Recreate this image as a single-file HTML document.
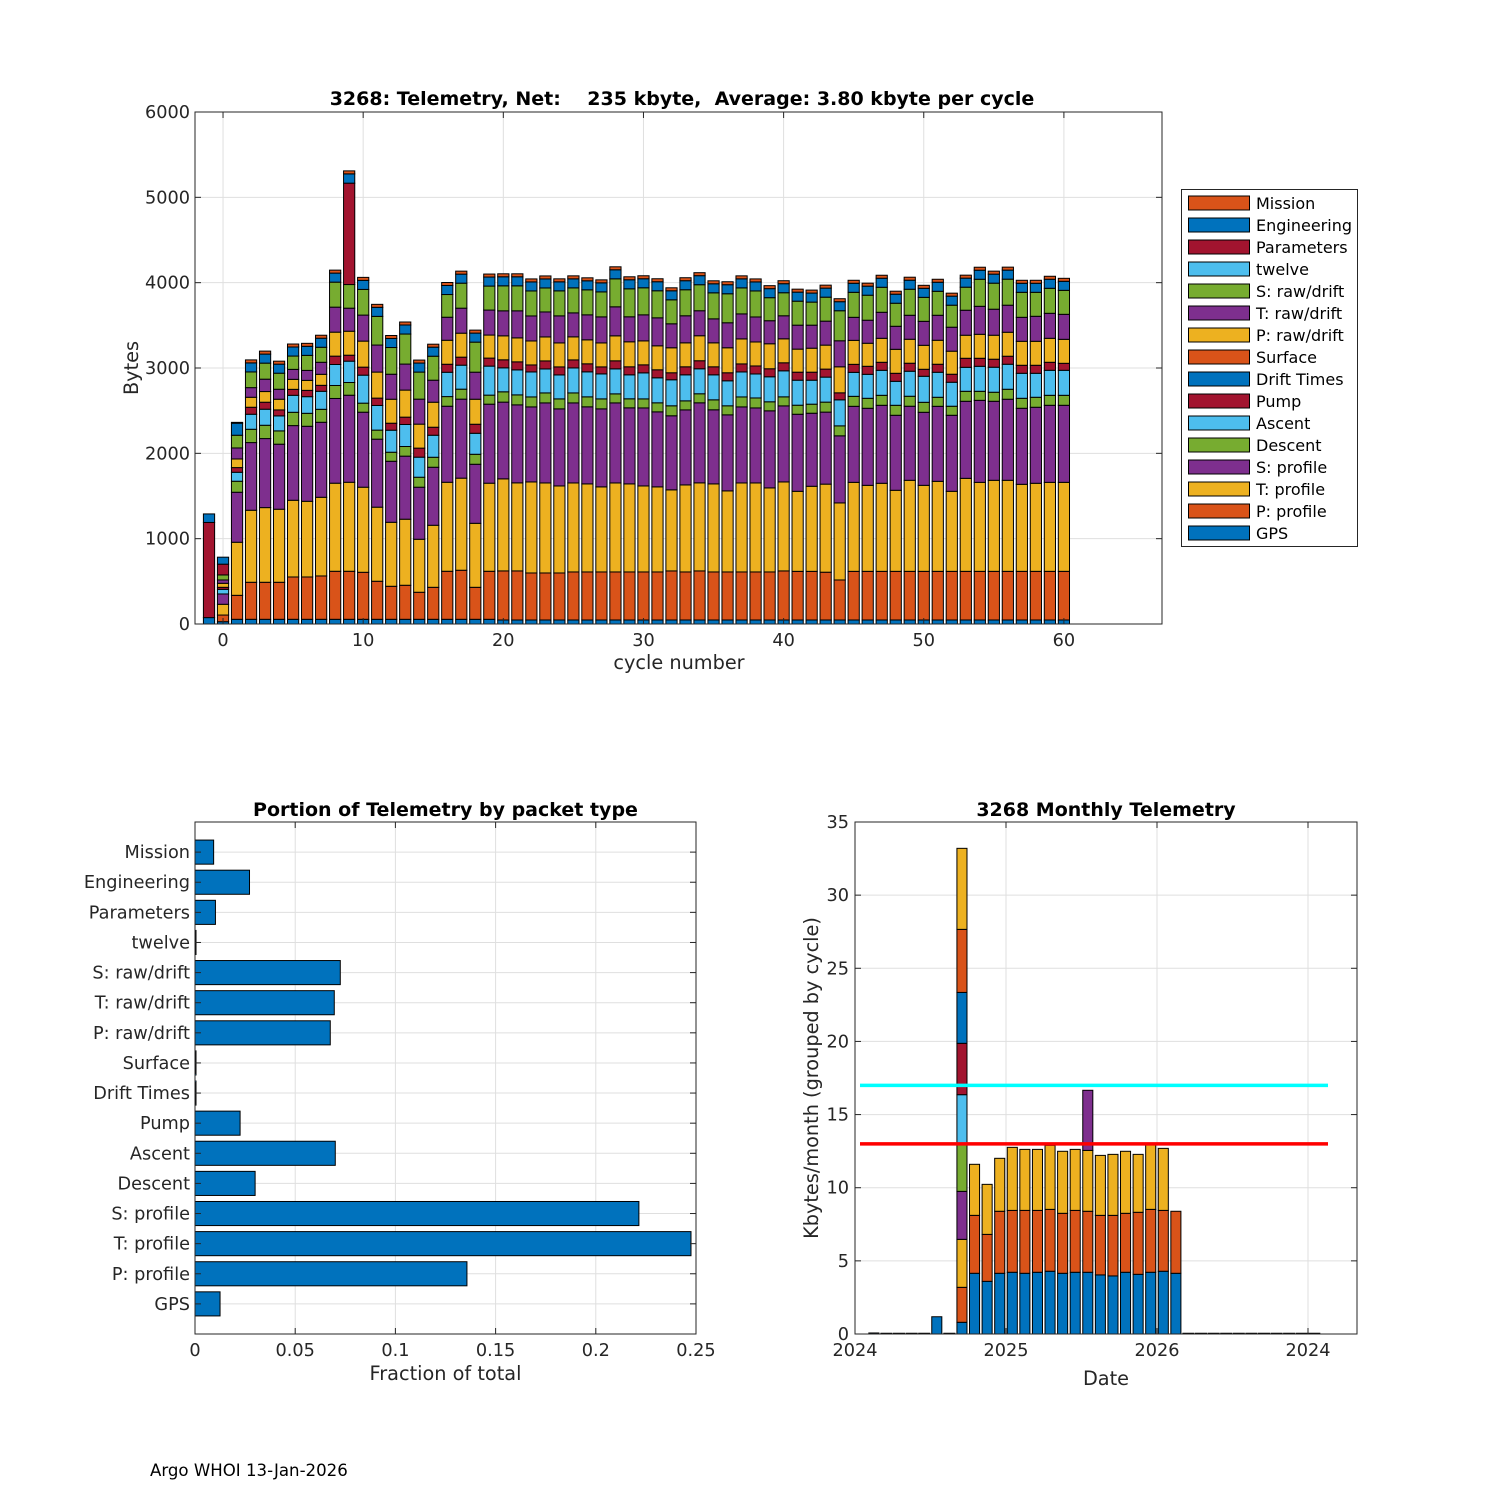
<!DOCTYPE html>
<html><head><meta charset="utf-8">
<style>
html,body{margin:0;padding:0;background:#fff;}
svg{display:block;font-family:"DejaVu Sans","Liberation Sans",sans-serif;}
.pre{white-space:pre;}
</style></head>
<body>
<svg id="fig" width="1500" height="1500" viewBox="0 0 1500 1500" xmlns="http://www.w3.org/2000/svg">
<rect x="0" y="0" width="1500" height="1500" fill="#fff"/>
<g id="top"></g><g id="bl"></g><g id="br"></g>
<text x="150" y="1476" font-size="16.6" fill="#000">Argo WHOI 13-Jan-2026</text>
</svg>
<script>
// ===== Top chart data (cycle -1 .. 60) =====
const cycles = [];
for (let c = -1; c <= 60; c++) cycles.push(c);
const seriesNames = ["GPS","P: profile","T: profile","S: profile","Descent","Ascent","Pump","Drift Times","Surface","P: raw/drift","T: raw/drift","S: raw/drift","twelve","Parameters","Engineering","Mission"];
const gpsVals = [75,27,55,55,55,55,55,55,55,55,55,55,55,55,55,55,55,55,55,55,55,47,47,47,47,47,47,47,47,47,47,47,47,47,47,47,47,47,47,47,47,47,47,47,47,47,47,47,47,47,47,47,47,47,47,47,47,47,47,47,47,47];
const pProfVals = [0,78,281,434,434,434,496,496,508,563,563,551,446,387,399,317,375,563,575,375,563,575,575,551,551,551,563,563,563,563,563,563,563,575,563,575,563,563,563,563,563,575,570,570,560,469,570,570,570,570,570,570,570,570,570,570,570,570,570,570,570,570];
const tProfVals = [0,126,622,844,875,856,899,887,922,1032,1043,997,868,750,774,621,727,1043,1079,750,1032,1079,1032,1067,1055,1020,1043,1032,997,1043,1032,1008,997,950,1020,1032,1032,950,1043,1043,985,1043,938,997,1032,903,1043,1008,1032,950,1067,1008,1055,938,1090,1043,1067,1067,1020,1032,1043,1043];
const sProfVals = [0,121,586,793,809,762,875,879,879,993,1020,879,797,715,739,610,680,891,926,692,926,899,914,879,938,903,938,903,914,938,891,914,879,868,879,938,868,891,891,879,903,891,903,856,844,786,891,903,914,879,868,856,879,891,903,961,926,950,891,891,903,903];
const descentVals = [0,0,129,156,156,156,156,152,152,152,149,106,106,106,113,117,117,113,117,117,106,121,117,117,117,117,117,117,117,106,106,106,106,117,106,106,117,106,117,117,106,106,106,106,117,117,117,117,117,117,117,117,106,106,117,106,106,117,117,117,117,117];
const ascentVals = [0,54,105,176,188,176,199,195,211,246,250,328,289,258,258,235,258,285,281,246,340,281,293,293,281,281,293,293,293,293,281,305,293,305,305,293,293,293,293,281,293,305,293,281,293,305,281,281,293,281,293,305,293,281,281,293,293,293,293,281,293,293];
const pumpVals = [0,24,55,82,82,70,70,74,70,98,70,94,86,82,86,106,94,94,94,106,94,94,94,82,94,94,94,94,82,94,94,94,94,82,94,94,94,94,94,94,94,94,94,94,94,82,94,94,94,94,94,82,94,94,106,94,94,94,94,94,94,82];
const driftVals = new Array(62).fill(0);
const surfaceVals = new Array(62).fill(0);
const pRawVals = [0,47,101,117,125,125,117,117,129,281,281,305,305,281,317,281,293,281,281,293,270,281,281,281,281,281,270,281,281,293,293,281,281,293,281,293,281,293,293,281,293,281,270,281,281,305,281,270,281,281,281,281,281,270,270,281,281,281,281,281,281,281];
const tRawVals = [0,39,129,113,145,117,117,117,141,293,270,305,317,293,305,293,258,270,293,317,293,293,317,293,293,317,281,293,305,340,293,305,328,281,317,293,281,293,293,293,270,270,281,270,281,305,270,270,305,270,281,281,293,281,293,328,305,317,281,293,293,293];
const sRawVals = [0,59,149,184,188,188,156,176,176,293,277,301,336,313,352,317,281,266,293,352,281,293,293,293,281,293,293,293,293,328,328,317,317,281,305,305,305,340,305,305,270,270,281,270,281,352,293,293,293,270,305,281,281,258,270,317,305,305,293,281,293,281];
const twelveVals = new Array(62).fill(0);
const paramVals = [1115,126,0,0,0,0,0,0,0,0,1188,0,0,0,0,0,0,0,0,0,0,0,0,0,0,0,0,0,0,0,0,0,0,0,0,0,0,0,0,0,0,0,0,0,0,0,0,0,0,0,0,0,0,0,0,0,0,0,0,0,0,0];
const engVals = [100,82,141,106,106,106,106,106,106,106,109,106,106,106,106,106,106,106,106,106,106,106,106,106,106,106,106,106,106,106,106,106,106,106,106,106,106,106,106,106,106,106,106,106,106,106,106,106,106,106,106,106,106,106,106,106,106,106,106,106,106,106];
const missionVals = [0,0,10,35,35,35,35,35,35,35,35,35,35,35,35,35,35,35,35,35,35,35,35,35,35,35,35,35,35,35,35,35,35,35,35,35,35,35,35,35,35,35,35,35,35,35,35,35,35,35,35,35,35,35,35,35,35,35,35,35,35,35];
const xTicksTop = [0,10,20,30,40,50,60];
const yTicksTop = [0,1000,2000,3000,4000,5000,6000];

// ===== Bottom-left data =====
const packetTypes = ["GPS","P: profile","T: profile","S: profile","Descent","Ascent","Pump","Drift Times","Surface","P: raw/drift","T: raw/drift","S: raw/drift","twelve","Parameters","Engineering","Mission"];
const fractions = [0.0125,0.1357,0.2475,0.2215,0.030,0.0700,0.0225,0.0005,0.0005,0.0675,0.0695,0.0725,0.0005,0.0102,0.0272,0.0093];
const xTicksBL = [0,0.05,0.1,0.15,0.2,0.25];
const xTickLabelsBL = ["0","0.05","0.1","0.15","0.2","0.25"];

// ===== Bottom-right data (months since Jan 2024) =====
const monthIdx = [1,2,3,4,5,6,7,8,9,10,11,12,13,14,15,16,17,18,19,20,21,22,23,24,25,26,27,28,29,30,31,32,33,34,35,36];
const monthSegs = [[0.07],[0],[0],[0],[0],[1.18],[0],
 [0.80,2.39,3.28,3.28,3.25,3.36,3.51,3.48,4.31,5.54],
 [4.15,3.96,3.49],[3.60,3.21,3.42],[4.15,4.24,3.62],[4.22,4.23,4.31],[4.15,4.30,4.17],[4.22,4.23,4.17],
 [4.29,4.23,4.38],[4.15,4.10,4.24],[4.22,4.23,4.17],[4.22,4.17,4.16,4.11],[4.04,4.07,4.10],[3.97,4.14,4.17],
 [4.22,4.03,4.24],[4.08,4.24,3.96],[4.22,4.30,4.43],[4.29,4.16,4.24],[4.15,4.24],
 [0],[0],[0],[0],[0],[0],[0],[0],[0],[0],[0]];
const yTicksBR = [0,5,10,15,20,25,30,35];
const xTicksBR = [0,12,24,36];
const xTickLabelsBR = ["2024","2025","2026","2024"];
const refLineCyan = 17;
const refLineRed = 13;

const COLORS = ["#0072BD","#D95319","#EDB120","#7E2F8E","#77AC30","#4DBEEE","#A2142F"];
const seriesColors = ["#0072BD","#D95319","#EDB120","#7E2F8E","#77AC30","#4DBEEE","#A2142F","#0072BD","#D95319","#EDB120","#7E2F8E","#77AC30","#4DBEEE","#A2142F","#0072BD","#D95319"];
const NS = "http://www.w3.org/2000/svg";
function mk(parent, tag, attrs, text) {
  const e = document.createElementNS(NS, tag);
  for (const k in attrs) e.setAttribute(k, attrs[k]);
  if (text !== undefined) e.textContent = text;
  parent.appendChild(e);
  return e;
}
const AX = "#262626", GRID = "#dfdfdf";
const TFS = 17.7, TITLEFS = 19, LABFS = 19.3;

// ================= TOP CHART =================
(function(){
  const g = document.getElementById('top');
  const L=195,R=1162,T=112,B=624, xmin=-2,xmax=67, ymax=6000;
  const xs = c => L + (c - xmin) * (R - L) / (xmax - xmin);
  const ys = v => B - v * (B - T) / ymax;
  const bg = mk(g,'rect',{x:L,y:T,width:R-L,height:B-T,fill:'#fff'});
  
  
  xTicksTop.forEach(t=>{ const l=mk(g,'line',{x1:xs(t),x2:xs(t),y1:T,y2:B,stroke:GRID,'stroke-width':1});
      });
  yTicksTop.forEach(t=>{ const l=mk(g,'line',{x1:L,x2:R,y1:ys(t),y2:ys(t),stroke:GRID,'stroke-width':1});
      });
  const all = [gpsVals,pProfVals,tProfVals,sProfVals,descentVals,ascentVals,pumpVals,driftVals,surfaceVals,pRawVals,tRawVals,sRawVals,twelveVals,paramVals,engVals,missionVals];
  const bw = 0.8 * (R - L) / (xmax - xmin);
  cycles.forEach((c,i)=>{
    let cum = 0;
    all.forEach((s,k)=>{
      const v = s[i]; if (!v) return;
      const r = mk(g,'rect',{x:xs(c)-bw/2,y:ys(cum+v),width:bw,height:ys(cum)-ys(cum+v),fill:seriesColors[k],stroke:'#000','stroke-width':1});
      
      
      cum += v;
    });
  });
  const bx = mk(g,'rect',{x:L,y:T,width:R-L,height:B-T,fill:'none',stroke:AX,'stroke-width':1});
   
  xTicksTop.forEach(t=>{
    mk(g,'line',{x1:xs(t),x2:xs(t),y1:B,y2:B-6,stroke:AX});
    mk(g,'line',{x1:xs(t),x2:xs(t),y1:T,y2:T+6,stroke:AX});
    const tx = mk(g,'text',{x:xs(t),y:B+22,'font-size':TFS,'text-anchor':'middle',fill:AX},String(t));
     
  });
  yTicksTop.forEach(t=>{
    mk(g,'line',{x1:L,x2:L+6,y1:ys(t),y2:ys(t),stroke:AX});
    mk(g,'line',{x1:R,x2:R-6,y1:ys(t),y2:ys(t),stroke:AX});
    const tx = mk(g,'text',{x:L-5,y:ys(t)+6,'font-size':TFS,'text-anchor':'end',fill:AX},String(t));
     
  });
  const ti = mk(g,'text',{x:682,y:105,'font-size':TITLEFS,'font-weight':'bold','text-anchor':'middle',fill:'#000','class':'pre'},'3268: Telemetry, Net:    235 kbyte,  Average: 3.80 kbyte per cycle');
   
  const xl = mk(g,'text',{x:679,y:669,'font-size':LABFS,'text-anchor':'middle',fill:AX},'cycle number');
   
  const yl = mk(g,'text',{x:0,y:0,'font-size':LABFS,'text-anchor':'middle',fill:AX,transform:'translate(138,368) rotate(-90)'},'Bytes');
   
  // legend
  const lg = mk(g,'g',{});
   
  mk(lg,'rect',{x:1181.5,y:189.5,width:176,height:357,fill:'#fff',stroke:AX,'stroke-width':1});
  for (let k = 15; k >= 0; k--) {
    const row = 15 - k, y = 203 + row * 22;
    const e = mk(lg,'g',{});
    
    
    mk(e,'rect',{x:1188.5,y:y-7,width:61,height:14,fill:seriesColors[k],stroke:'#000','stroke-width':1});
    mk(e,'text',{x:1256,y:y+6,'font-size':16,fill:'#000'},seriesNames[k]);
  }
})();

// ================= BOTTOM-LEFT =================
(function(){
  const g = document.getElementById('bl');
  const L=195,R=696,T=822,B=1334, xmax=0.25, ymax=17;
  const xs = v => L + v * (R - L) / xmax;
  const ys = i => B - i * (B - T) / ymax;
  xTicksBL.forEach(t=>{ const l=mk(g,'line',{x1:xs(t),x2:xs(t),y1:T,y2:B,stroke:GRID});
      });
  packetTypes.forEach((p,i)=>{ const l=mk(g,'line',{x1:L,x2:R,y1:ys(i+1),y2:ys(i+1),stroke:GRID});
      });
  const bh = 0.8 * (B - T) / ymax;
  packetTypes.forEach((p,i)=>{
    const r = mk(g,'rect',{x:xs(0),y:ys(i+1)-bh/2,width:xs(fractions[i])-xs(0),height:bh,fill:'#0072BD',stroke:'#000','stroke-width':1});
    
    
    mk(g,'line',{x1:L,x2:L+6,y1:ys(i+1),y2:ys(i+1),stroke:AX});
    mk(g,'line',{x1:R,x2:R-6,y1:ys(i+1),y2:ys(i+1),stroke:AX});
    const tx = mk(g,'text',{x:L-5,y:ys(i+1)+6,'font-size':TFS,'text-anchor':'end',fill:AX},p);
     
  });
  const bx = mk(g,'rect',{x:L,y:T,width:R-L,height:B-T,fill:'none',stroke:AX});
   
  xTicksBL.forEach((t,j)=>{
    mk(g,'line',{x1:xs(t),x2:xs(t),y1:B,y2:B-6,stroke:AX});
    mk(g,'line',{x1:xs(t),x2:xs(t),y1:T,y2:T+6,stroke:AX});
    const tx = mk(g,'text',{x:xs(t),y:B+22,'font-size':TFS,'text-anchor':'middle',fill:AX},xTickLabelsBL[j]);
     
  });
  const ti = mk(g,'text',{x:(L+R)/2,y:816,'font-size':TITLEFS,'font-weight':'bold','text-anchor':'middle',fill:'#000'},'Portion of Telemetry by packet type');
   
  const xl = mk(g,'text',{x:(L+R)/2,y:1380,'font-size':LABFS,'text-anchor':'middle',fill:AX},'Fraction of total');
   
})();

// ================= BOTTOM-RIGHT =================
(function(){
  const g = document.getElementById('br');
  const L=855,R=1357,T=822,B=1334, ymax=35, mpx=(1157-855)/24;
  const xs = m => L + m * mpx;
  const ys = v => B - v * (B - T) / ymax;
  xTicksBR.forEach(t=>{ const l=mk(g,'line',{x1:xs(t),x2:xs(t),y1:T,y2:B,stroke:GRID});
      });
  yTicksBR.forEach(t=>{ const l=mk(g,'line',{x1:L,x2:R,y1:ys(t),y2:ys(t),stroke:GRID});
      });
  const bw = 0.8 * mpx;
  monthIdx.forEach((m,i)=>{
    let cum = 0;
    const cx = xs(m + 0.5);
    monthSegs[i].forEach((v,k)=>{
      if (v <= 0) {
        const z = mk(g,'line',{x1:cx-bw/2-1,x2:cx+bw/2+1,y1:B-0.5,y2:B-0.5,stroke:'#000','stroke-width':1.5});
        
        
        return;
      }
      const r = mk(g,'rect',{x:cx-bw/2,y:ys(cum+v),width:bw,height:ys(cum)-ys(cum+v),fill:COLORS[k%7],stroke:'#000','stroke-width':1});
      
      
      cum += v;
    });
  });
  const c1 = mk(g,'line',{x1:860,x2:1328,y1:ys(refLineCyan),y2:ys(refLineCyan),stroke:'#00FFFF','stroke-width':3.5});
   
  const r1 = mk(g,'line',{x1:860,x2:1328,y1:ys(refLineRed),y2:ys(refLineRed),stroke:'#FF0000','stroke-width':3.5});
   
  const bx = mk(g,'rect',{x:L,y:T,width:R-L,height:B-T,fill:'none',stroke:AX});
   
  xTicksBR.forEach((t,j)=>{
    mk(g,'line',{x1:xs(t),x2:xs(t),y1:B,y2:B-6,stroke:AX});
    mk(g,'line',{x1:xs(t),x2:xs(t),y1:T,y2:T+6,stroke:AX});
    const tx = mk(g,'text',{x:xs(t),y:B+22,'font-size':TFS,'text-anchor':'middle',fill:AX},xTickLabelsBR[j]);
     
  });
  yTicksBR.forEach(t=>{
    mk(g,'line',{x1:L,x2:L+6,y1:ys(t),y2:ys(t),stroke:AX});
    mk(g,'line',{x1:R,x2:R-6,y1:ys(t),y2:ys(t),stroke:AX});
    const tx = mk(g,'text',{x:L-6,y:ys(t)+6,'font-size':TFS,'text-anchor':'end',fill:AX},String(t));
     
  });
  const ti = mk(g,'text',{x:(L+R)/2,y:816,'font-size':TITLEFS,'font-weight':'bold','text-anchor':'middle',fill:'#000'},'3268 Monthly Telemetry');
   
  const xl = mk(g,'text',{x:(L+R)/2,y:1385,'font-size':LABFS,'text-anchor':'middle',fill:AX},'Date');
   
  const yl = mk(g,'text',{x:0,y:0,'font-size':LABFS,'text-anchor':'middle',fill:AX,transform:'translate(818,1078) rotate(-90)'},'Kbytes/month (grouped by cycle)');
   
})();
</script>
</body></html>
